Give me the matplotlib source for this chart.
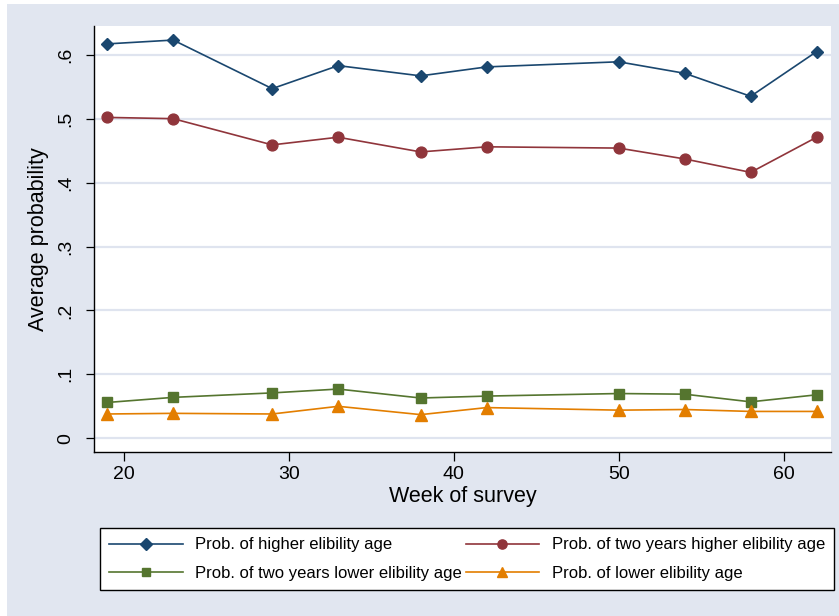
# -*- coding: utf-8 -*-
"""
Average probability by week of survey, four eligibility-age series
"""
import matplotlib
matplotlib.use("Agg")
import matplotlib.pyplot as plt
from matplotlib.patches import Rectangle

# ── DATA ──────────────────────────────────────────────────────────────────────
weeks        = [19, 23, 29, 33, 38, 42, 50, 54, 58, 62]
p_higher     = [0.617, 0.623, 0.547, 0.583, 0.567, 0.581, 0.589, 0.571, 0.535, 0.605]
p_two_higher = [0.502, 0.500, 0.459, 0.471, 0.448, 0.456, 0.454, 0.437, 0.416, 0.471]
p_two_lower  = [0.056, 0.064, 0.071, 0.077, 0.063, 0.066, 0.070, 0.069, 0.057, 0.068]
p_lower      = [0.038, 0.039, 0.038, 0.050, 0.037, 0.048, 0.044, 0.045, 0.042, 0.042]

y_ticks  = [0, 0.1, 0.2, 0.3, 0.4, 0.5, 0.6]
y_labels = ["0", ".1", ".2", ".3", ".4", ".5", ".6"]
x_ticks  = [20, 30, 40, 50, 60]

SERIES = [
    ("Prob. of higher elibility age",            p_higher,     "#1a476f", "D", 6.6),
    ("Prob. of two years higher elibility age",  p_two_higher, "#90353b", "o", 7.8),
    ("Prob. of two years lower elibility age",   p_two_lower,  "#55752f", "s", 7.4),
    ("Prob. of lower elibility age",             p_lower,      "#e37e00", "^", 8.8),
]

BG   = "#e1e6f0"
GRID = "#dfe4ef"
W, H = 839, 616

plt.rcParams["font.family"] = ["Liberation Sans", "DejaVu Sans"]

# ── FIGURE ────────────────────────────────────────────────────────────────────
fig = plt.figure(figsize=(W/100, H/100), dpi=100, facecolor="white")
fig.patches.append(Rectangle((7/W, 0), 1, 1-4/H, transform=fig.transFigure,
                             facecolor=BG, edgecolor="none", zorder=-10))

ax = fig.add_axes([94/W, 1-451.7/H, (830.7-94)/W, (451.7-26)/H])
ax.set_facecolor("white")

handles = []
for label, vals, color, mk, ms in SERIES:
    h, = ax.plot(weeks, vals, color=color, lw=1.2, marker=mk, markersize=ms,
                 markerfacecolor=color, markeredgecolor=color, label=label, zorder=3)
    handles.append(h)

ax.set_xlim(18.2, 62.85)
ax.set_ylim(-0.021, 0.645)
ax.set_yticks(y_ticks)
ax.set_yticklabels(y_labels, rotation=90, va="center")
ax.set_xticks(x_ticks)

for y in y_ticks:
    ax.axhline(y, color=GRID, lw=1.6, zorder=1)

for s in ["top", "right"]:
    ax.spines[s].set_visible(False)
for s in ["left", "bottom"]:
    ax.spines[s].set_color("black")
    ax.spines[s].set_linewidth(1.0)

ax.tick_params(axis="y", length=6, width=0.9, pad=8, labelsize=14, colors="black")
ax.tick_params(axis="x", length=6.5, width=0.9, pad=4, labelsize=14, colors="black")

ax.set_xlabel("Week of survey", fontsize=15.5, labelpad=2)
ax.set_ylabel("Average probability", fontsize=15.5, labelpad=6)

# ── LEGEND ────────────────────────────────────────────────────────────────────
# ncol fills column by column, so reorder to read across rows
order = [0, 2, 1, 3]
leg = fig.legend([handles[i] for i in order], [SERIES[i][0] for i in order],
                 ncol=2, loc="lower left", mode="expand",
                 bbox_to_anchor=(100/W, 1-590/H, 734/W, 68/H), borderaxespad=0,
                 frameon=True, fancybox=False, edgecolor="black", framealpha=1,
                 handlelength=4.4, handletextpad=0.75, columnspacing=0.5,
                 labelspacing=0.8, borderpad=0.55, markerscale=0.85,
                 prop={"size": 12})
leg.get_frame().set_linewidth(1.0)

plt.savefig("out.png", dpi=100, facecolor=fig.get_facecolor())
